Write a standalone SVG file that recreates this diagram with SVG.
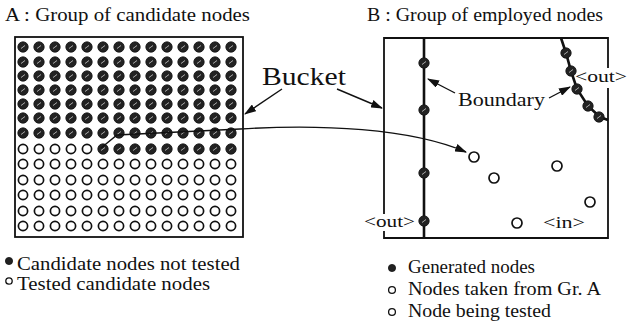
<svg xmlns="http://www.w3.org/2000/svg" xmlns:xlink="http://www.w3.org/1999/xlink" width="630" height="332" viewBox="0 0 630 332">
<style>
text{font-family:"Liberation Serif","Times New Roman",serif;fill:#111}
.t{font-size:19px}
.lg{font-size:18px}
.sm{font-size:16px}
.box{fill:none;stroke:#111;stroke-width:1.8}
.ln{fill:none;stroke:#111;stroke-width:1.4}
.bd{fill:none;stroke:#111;stroke-width:2.6}
.o{fill:#fff;stroke:#111;stroke-width:1.7}
.f{fill:#222;stroke:#111;stroke-width:0.8}
</style>
<defs>
<marker id="ah" markerUnits="userSpaceOnUse" markerWidth="12" markerHeight="8" refX="11" refY="4" orient="auto">
<path d="M0,0 L12,4 L0,8 z" fill="#111"/>
</marker>
<g id="fd"><circle r="5.2" class="f"/><path d="M-2,1.5 L2,-1.5" stroke="#aaa" stroke-width="1"/></g>
<g id="od"><circle r="4.6" class="o"/></g>
<g id="rowF">
<use xlink:href="#fd" x="23"/><use xlink:href="#fd" x="39"/><use xlink:href="#fd" x="55"/><use xlink:href="#fd" x="71"/><use xlink:href="#fd" x="87"/><use xlink:href="#fd" x="103"/><use xlink:href="#fd" x="119"/><use xlink:href="#fd" x="135"/><use xlink:href="#fd" x="151"/><use xlink:href="#fd" x="167"/><use xlink:href="#fd" x="183"/><use xlink:href="#fd" x="199"/><use xlink:href="#fd" x="215"/><use xlink:href="#fd" x="231"/>
</g>
<g id="rowO">
<use xlink:href="#od" x="23"/><use xlink:href="#od" x="39"/><use xlink:href="#od" x="55"/><use xlink:href="#od" x="71"/><use xlink:href="#od" x="87"/><use xlink:href="#od" x="103"/><use xlink:href="#od" x="119"/><use xlink:href="#od" x="135"/><use xlink:href="#od" x="151"/><use xlink:href="#od" x="167"/><use xlink:href="#od" x="183"/><use xlink:href="#od" x="199"/><use xlink:href="#od" x="215"/><use xlink:href="#od" x="231"/>
</g>
</defs>
<rect width="630" height="332" fill="#fff"/>

<g id="groupA">
<text class="t" x="5" y="21" textLength="245" lengthAdjust="spacingAndGlyphs">A : Group of candidate nodes</text>
<rect class="box" x="15" y="37" width="228" height="200"/>
<use xlink:href="#rowF" y="47"/>
<use xlink:href="#rowF" y="62"/>
<use xlink:href="#rowF" y="76"/>
<use xlink:href="#rowF" y="90"/>
<use xlink:href="#rowF" y="104"/>
<use xlink:href="#rowF" y="118"/>
<use xlink:href="#rowF" y="133"/>
<g id="rowMixed">
<use xlink:href="#od" x="23" y="149"/><use xlink:href="#od" x="39" y="149"/><use xlink:href="#od" x="55" y="149"/><use xlink:href="#od" x="71" y="149"/><use xlink:href="#od" x="87" y="149"/>
<use xlink:href="#fd" x="103" y="149"/><use xlink:href="#fd" x="119" y="149"/><use xlink:href="#fd" x="135" y="149"/><use xlink:href="#fd" x="151" y="149"/><use xlink:href="#fd" x="167" y="149"/><use xlink:href="#fd" x="183" y="149"/><use xlink:href="#fd" x="199" y="149"/><use xlink:href="#fd" x="215" y="149"/><use xlink:href="#fd" x="231" y="149"/>
</g>
<use xlink:href="#rowO" y="164"/>
<use xlink:href="#rowO" y="180"/>
<use xlink:href="#rowO" y="195"/>
<use xlink:href="#rowO" y="211"/>
<use xlink:href="#rowO" y="226"/>
</g>

<g id="groupB">
<text class="t" x="367" y="21" textLength="236" lengthAdjust="spacingAndGlyphs">B : Group of employed nodes</text>
<path class="box" d="M384,214 V38 H608 V68 M608,88 V238 H384 V231"/>
</g>

<g id="boundary-vertical">
<line class="bd" x1="424" y1="38" x2="424" y2="238"/>
<use xlink:href="#fd" x="424" y="63" transform="translate(0,0)"/>
<use xlink:href="#fd" x="424" y="110"/>
<use xlink:href="#fd" x="424" y="173"/>
<use xlink:href="#fd" x="424" y="221"/>
</g>
<g id="boundary-diagonal">
<polyline class="bd" points="561,38 566,53 571,71 577,89 588,106 600,117 608,120"/>
<use xlink:href="#fd" x="566" y="53"/>
<use xlink:href="#fd" x="571" y="71"/>
<use xlink:href="#fd" x="577" y="89"/>
<use xlink:href="#fd" x="588" y="106"/>
<use xlink:href="#fd" x="599" y="117"/>
</g>
<g id="taken-nodes">
<circle class="o" cx="474" cy="157" r="5"/>
<circle class="o" cx="494" cy="178" r="5"/>
<circle class="o" cx="557" cy="166" r="5"/>
<circle class="o" cx="590" cy="202" r="5"/>
<circle class="o" cx="517" cy="223" r="5"/>
</g>
<g id="labels">
<text class="sm" x="575" y="82" textLength="52" lengthAdjust="spacingAndGlyphs">&lt;out&gt;</text>
<text class="sm" x="364" y="227" textLength="51" lengthAdjust="spacingAndGlyphs">&lt;out&gt;</text>
<text class="sm" x="543" y="228" textLength="42" lengthAdjust="spacingAndGlyphs">&lt;in&gt;</text>
<text style="font-size:25px" x="262" y="85" textLength="84" lengthAdjust="spacingAndGlyphs">Bucket</text>
<text class="t" x="458" y="106" textLength="87" lengthAdjust="spacingAndGlyphs">Boundary</text>
</g>

<g id="connectors">
<path class="ln" d="M101,148 L117,135 L240,129 C320,124 410,128 466,152" marker-end="url(#ah)"/>
<line class="ln" x1="282" y1="89" x2="245" y2="114" marker-end="url(#ah)"/>
<line class="ln" x1="337" y1="89" x2="382" y2="108" marker-end="url(#ah)"/>
<line class="ln" x1="455" y1="93" x2="428" y2="79" marker-end="url(#ah)"/>
<line class="ln" x1="549" y1="98" x2="570" y2="87" marker-end="url(#ah)"/>
</g>

<g id="legend">
<circle cx="9" cy="261" r="3.6" class="f"/>
<text class="lg" x="17" y="270" textLength="223" lengthAdjust="spacingAndGlyphs">Candidate nodes not tested</text>
<circle cx="9" cy="281" r="3.2" class="o" style="stroke-width:1.3"/>
<text class="lg" x="17" y="290" textLength="193" lengthAdjust="spacingAndGlyphs">Tested candidate nodes</text>
<circle cx="392" cy="268" r="3.6" class="f"/>
<text class="lg" x="408" y="273" textLength="127" lengthAdjust="spacingAndGlyphs">Generated nodes</text>
<circle cx="392" cy="290" r="3.4" class="o" style="stroke-width:1.3"/>
<text class="lg" x="408" y="295" textLength="193" lengthAdjust="spacingAndGlyphs">Nodes taken from Gr. A</text>
<circle cx="392" cy="312" r="3.4" class="o" style="stroke-width:1.3"/>
<text class="lg" x="408" y="317" textLength="143" lengthAdjust="spacingAndGlyphs">Node being tested</text>
</g>
</svg>
